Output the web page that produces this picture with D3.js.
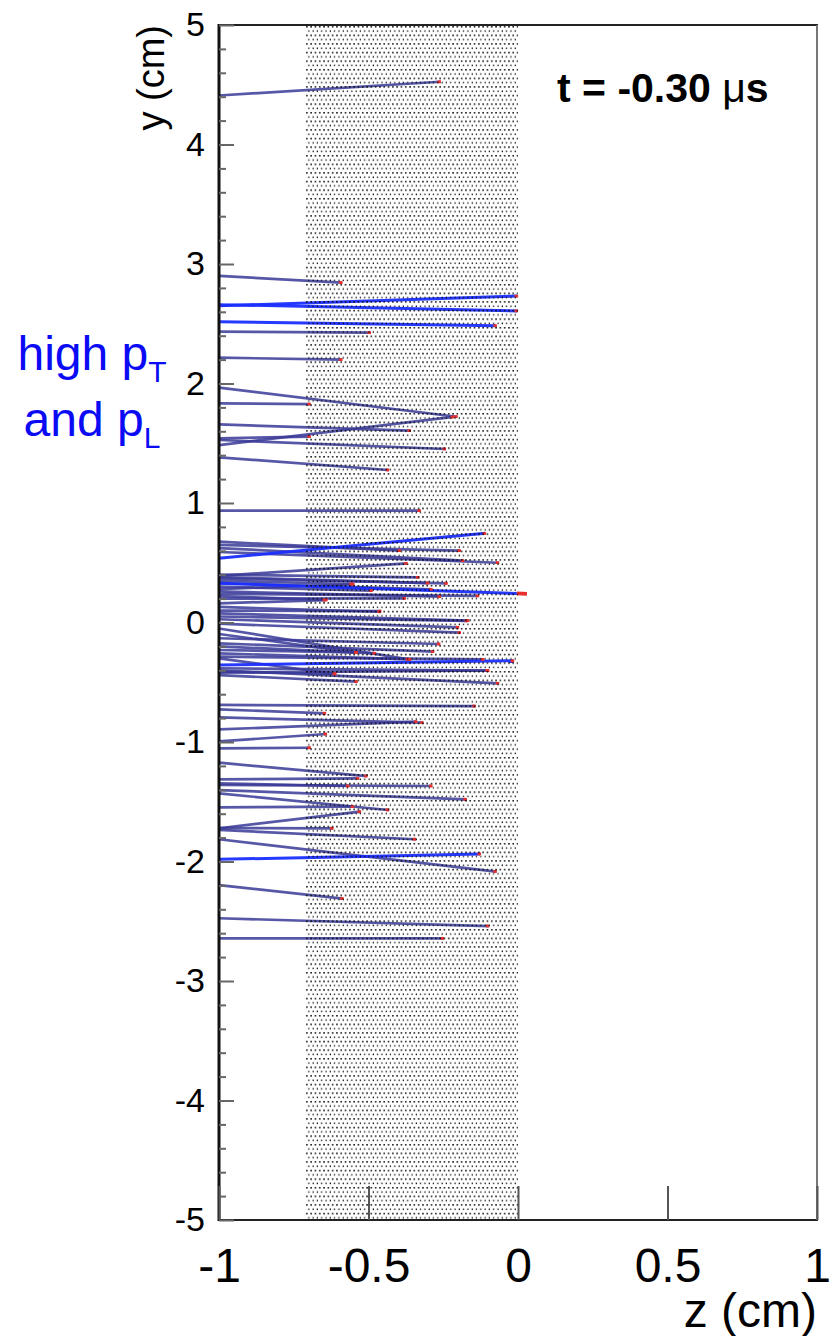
<!DOCTYPE html>
<html>
<head>
<meta charset="utf-8">
<script src="https://cdn.jsdelivr.net/npm/d3@7/dist/d3.min.js"></script>
<style>
  html, body { margin: 0; padding: 0; background: #fff; }
  svg { display: block; font-family: "Liberation Sans", Arial, Helvetica, sans-serif; }
</style>
</head>
<body>
<svg id="chart" width="833" height="1336"></svg>
<script>
// Track trails: start height at the left edge (z = -1), current particle position (z, y)
const trackStartY = [
  4.41, 2.90, 2.65, 2.66, 2.517, 2.434, 2.216, 1.965, 1.834, 1.658,
  1.541, 1.485, 1.527, 1.382, 0.936, 0.537, 0.676, 0.649, 0.623, 0.590,
  0.39, 0.40, 0.37, 0.328, 0.35, 0.30, 0.33, 0.26, 0.24, 0.20,
  0.16, 0.13, 0.077, 0.027, -0.01, -0.096, -0.132, -0.174, -0.20, -0.258,
  -0.286, -0.356, -0.383, -0.41, -0.44, -0.40, -0.690, -0.727, -0.794, -0.895,
  -0.995, -1.053, -1.173, -1.312, -1.346, -1.36, -1.402, -1.547, -1.43, -1.722,
  -1.72, -1.736, -1.814, -1.982, -2.197, -2.475, -2.643,
  0.38, 0.28, 0.22, 0.10, 0.05, -0.05, -0.23, -0.30, -0.42
];
const trackEndZ = [
  -0.261, -0.590, -0.003, -0.003, -0.074, -0.495, -0.590, -0.205, -0.696, -0.361,
  -0.696, -0.217, -0.244, -0.434, -0.328, -0.110, -0.395, -0.194, -0.183, -0.066,
  -0.372, -0.333, -0.238, 0.030, -0.556, -0.489, -0.289, -0.261, -0.133, -0.378,
  -0.645, -0.462, -0.166, -0.200, -0.194, -0.539, -0.263, -0.283, -0.478, -0.367,
  -0.116, -0.016, -0.099, -0.612, -0.539, -0.066, -0.144, -0.645, -0.319, -0.340,
  -0.642, -0.696, -0.506, -0.534, -0.567, -0.289, -0.174, -0.551, -0.434, -0.528,
  -0.620, -0.344, -0.074, -0.127, -0.586, -0.099, -0.250,
  -0.300, -0.550, -0.640, -0.460, -0.170, -0.360, -0.540, -0.610, -0.100
];
const trackEndY = [
  4.525, 2.844, 2.732, 2.607, 2.484, 2.425, 2.200, 1.722, 1.828, 1.605,
  1.555, 1.720, 1.452, 1.276, 0.936, 0.746, 0.601, 0.601, 0.517, 0.500,
  0.495, 0.378, 0.328, 0.240, 0.322, 0.266, 0.278, 0.216, 0.222, 0.202,
  0.188, 0.090, 0.015, -0.040, -0.085, -0.253, -0.180, -0.244, -0.258, -0.308,
  -0.308, -0.320, -0.403, -0.431, -0.495, -0.509, -0.699, -0.760, -0.838, -0.830,
  -0.933, -1.048, -1.285, -1.304, -1.368, -1.368, -1.480, -1.541, -1.569, -1.583,
  -1.722, -1.814, -2.085, -1.937, -2.311, -2.540, -2.643,
  0.330, 0.320, 0.190, 0.095, 0.013, -0.310, -0.250, -0.430, -0.400
];
// 1 = high transverse and longitudinal momentum
const trackHighP = [
  0, 0, 1, 1, 1, 0, 0, 0, 0, 0,
  0, 0, 0, 0, 0, 1, 0, 0, 0, 0,
  0, 0, 0, 1, 0, 0, 0, 0, 0, 0,
  0, 0, 0, 0, 0, 0, 0, 0, 0, 0,
  0, 1, 0, 0, 0, 0, 0, 0, 0, 0,
  0, 0, 0, 0, 0, 0, 0, 0, 0, 0,
  0, 0, 0, 1, 0, 0, 0,
  0, 0, 0, 0, 0, 0, 0, 0, 0
];
// z where the red particle segment begins (null = short default marker)
const trackTipStartZ = trackEndZ.map((z, i) => (i === 23 ? -0.004 : null));

// Shaded target region in z
const targetZ = [-0.712, 0];

const zTicks = [-1, -0.5, 0, 0.5, 1];
const yMajorTicks = [-5, -4, -3, -2, -1, 0, 1, 2, 3, 4, 5];
const yMinorTicks = d3.range(-50, 51, 2).map(v => v / 10).filter(v => Math.abs(v - Math.round(v)) > 1e-6);
const timeLabel = "t = -0.30 ";

const svg = d3.select("#chart");
const plotLeft = 219, plotRight = 817, plotTop = 25, plotBottom = 1220;

const x = d3.scaleLinear().domain([-1, 1]).range([plotLeft, plotRight]);
const y = d3.scaleLinear().domain([-5, 5]).range([plotBottom, plotTop]);

// dotted fill pattern for the target
const defs = svg.append("defs");
const pat = defs.append("pattern")
  .attr("id", "dots").attr("patternUnits", "userSpaceOnUse")
  .attr("width", 4.3).attr("height", 8.6)
  .attr("x", x(targetZ[0])).attr("y", plotTop);
pat.append("rect").attr("x", 1).attr("y", 1).attr("width", 1.5).attr("height", 1.5).attr("fill", "#000");
pat.append("rect").attr("x", 3.15).attr("y", 5.3).attr("width", 1.5).attr("height", 1.5).attr("fill", "#000");

// tracks
const tracks = trackStartY.map((y0, i) => ({
  y0, z1: trackEndZ[i], y1: trackEndY[i], hi: trackHighP[i], tip: trackTipStartZ[i]
}));

const gTracks = svg.append("g");
const ordered = tracks.filter(d => !d.hi).concat(tracks.filter(d => d.hi));
gTracks.selectAll("line.track").data(ordered).enter().append("line")
  .attr("class", "track")
  .attr("x1", x(-1)).attr("y1", d => y(d.y0))
  .attr("x2", d => x(d.tip !== null ? d.tip : d.z1))
  .attr("y2", d => {
    if (d.tip === null) return y(d.y1);
    const t = (d.tip + 1) / (d.z1 + 1);
    return y(d.y0 + t * (d.y1 - d.y0));
  })
  .attr("stroke", d => d.hi ? "#1a2eff" : "#3a3a98")
  .attr("stroke-opacity", d => d.hi ? 0.95 : 0.85)
  .attr("stroke-width", d => d.hi ? 3 : 2.7);

// red particle markers at the current positions
gTracks.selectAll("line.tip").data(tracks).enter().append("line")
  .attr("class", "tip")
  .attr("x1", d => d.tip !== null ? x(d.tip) : x(d.z1) - 2.5)
  .attr("y1", d => {
    const zs = d.tip !== null ? d.tip : d.z1 - 2.5 / (x(1) - x(0));
    const t = (zs + 1) / (d.z1 + 1);
    return y(d.y0 + t * (d.y1 - d.y0));
  })
  .attr("x2", d => x(d.z1) + (d.tip !== null ? 0 : 1))
  .attr("y2", d => y(d.y1))
  .attr("stroke", "#e8312f")
  .attr("stroke-width", d => d.tip !== null ? 3.8 : 2.8);

// target dots drawn over the trails
svg.append("rect")
  .attr("x", x(targetZ[0])).attr("y", plotTop)
  .attr("width", x(targetZ[1]) - x(targetZ[0]))
  .attr("height", plotBottom - plotTop)
  .attr("fill", "url(#dots)");

// frame
svg.append("rect")
  .attr("x", plotLeft).attr("y", plotTop).attr("width", plotRight - plotLeft).attr("height", plotBottom - plotTop)
  .attr("fill", "none").attr("stroke", "#222").attr("stroke-width", 2);
svg.append("line").attr("x1", plotRight).attr("x2", plotRight).attr("y1", plotTop).attr("y2", plotBottom)
  .attr("stroke", "#777").attr("stroke-width", 2);
svg.append("line").attr("x1", plotLeft).attr("x2", plotLeft).attr("y1", plotTop - 1).attr("y2", plotBottom + 1)
  .attr("stroke", "#111").attr("stroke-width", 3);

// y axis (ticks pointing inward)
const yAxis = svg.append("g").attr("transform", `translate(${plotLeft},0)`)
  .call(d3.axisLeft(y).tickValues(yMajorTicks).tickSizeInner(-15).tickSizeOuter(0)
    .tickPadding(14).tickFormat(d => String(d)));
yAxis.select(".domain").remove();
yAxis.selectAll(".tick line").attr("stroke", "#666").attr("stroke-width", 2);
yAxis.selectAll(".tick text").attr("font-size", 34).attr("fill", "#000")
  .attr("font-family", "Liberation Sans, Arial, sans-serif");

const yMinor = svg.append("g").attr("transform", `translate(${plotLeft},0)`)
  .call(d3.axisLeft(y).tickValues(yMinorTicks).tickSizeInner(-7).tickSizeOuter(0).tickFormat(""));
yMinor.select(".domain").remove();
yMinor.selectAll(".tick line").attr("stroke", "#666").attr("stroke-width", 2);

// z axis
const xAxis = svg.append("g").attr("transform", `translate(0,${plotBottom})`)
  .call(d3.axisBottom(x).tickValues(zTicks).tickSizeInner(-34).tickSizeOuter(0)
    .tickPadding(28).tickFormat(d => String(d)));
xAxis.select(".domain").remove();
xAxis.selectAll(".tick line").attr("stroke", "#555").attr("stroke-width", 2);
xAxis.selectAll(".tick text").attr("font-size", 48).attr("fill", "#000")
  .attr("font-family", "Liberation Sans, Arial, sans-serif");

// axis titles
svg.append("text")
  .attr("transform", `translate(164,${plotTop}) rotate(-90)`)
  .attr("text-anchor", "end").attr("font-size", 38).attr("fill", "#000")
  .text("y (cm)");
svg.append("text")
  .attr("x", plotRight).attr("y", 1327)
  .attr("text-anchor", "end").attr("font-size", 48).attr("fill", "#000")
  .text("z (cm)");

// time stamp
const tl = svg.append("text").attr("x", 557).attr("y", 102)
  .attr("font-size", 41).attr("font-weight", "bold").attr("fill", "#000");
tl.append("tspan").text(timeLabel);
tl.append("tspan").attr("font-weight", "normal").text("\u03bc");
tl.append("tspan").text("s");

// annotation
const note1 = svg.append("text").attr("x", 92).attr("y", 370)
  .attr("text-anchor", "middle").attr("font-size", 48).attr("fill", "#0a0af5");
note1.append("tspan").text("high p");
note1.append("tspan").attr("font-size", 30).attr("dy", 12).text("T");
const note2 = svg.append("text").attr("x", 92).attr("y", 436)
  .attr("text-anchor", "middle").attr("font-size", 48).attr("fill", "#0a0af5");
note2.append("tspan").text("and p");
note2.append("tspan").attr("font-size", 30).attr("dy", 12).text("L");
</script>
</body>
</html>
